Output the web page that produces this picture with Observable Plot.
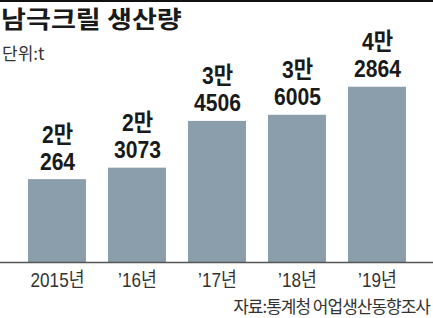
<!DOCTYPE html>
<html>
<head>
<meta charset="utf-8">
<script src="https://cdn.jsdelivr.net/npm/d3@7"></script>
<script src="https://cdn.jsdelivr.net/npm/@observablehq/plot@0.6"></script>
<style>
  html, body { margin: 0; padding: 0; background: #fff; }
  #wrap { position: relative; width: 433px; height: 318px; overflow: hidden; background: #fff; }
  #chart { position: absolute; left: 0; top: 0; }
  #topline { position: absolute; left: 0; top: 0; width: 433px; height: 2px; background: #111; }
  #title { position: absolute; left: 1px; top: 1px; font-family: "Noto Sans CJK KR", sans-serif; font-weight: 700; font-size: 24px; line-height: 34px; color: #1a1a1a; white-space: nowrap; transform: scaleX(1.13); transform-origin: 0 0; }
  #subtitle { position: absolute; left: 2px; top: 40px; font-family: "Noto Sans CJK KR", sans-serif; font-size: 17px; line-height: 26px; color: #333; white-space: nowrap; }
  #caption { position: absolute; right: 3px; top: 294px; font-family: "Noto Sans CJK KR", sans-serif; font-size: 17px; line-height: 24px; color: #333; letter-spacing: -1px; white-space: nowrap; }
</style>
</head>
<body>
<div id="wrap">
  <div id="chart"></div>
  <div id="topline"></div>
  <div id="title">남극크릴 생산량</div>
  <div id="subtitle">단위:t</div>
  <div id="caption">자료:통계청 어업생산동향조사</div>
</div>
<script>
const years = ["2015년", "’16년", "’17년", "’18년", "’19년"];
const values = [20264, 23073, 34506, 36005, 42864];
const labels = ["2만\n264", "2만\n3073", "3만\n4506", "3만\n6005", "4만\n2864"];

const data = years.map((year, i) => ({year, value: values[i], label: labels[i]}));

const chart = Plot.plot({
  width: 433,
  height: 296,
  marginLeft: 0,
  marginRight: 0,
  marginTop: 78,
  marginBottom: 34,
  style: {fontFamily: "'Liberation Sans', Arial, 'Noto Sans CJK KR', sans-serif", fontSize: "20px", color: "#333", background: "transparent", overflow: "visible"},
  x: {domain: years, padding: 0.28, insetLeft: 4.5, insetRight: 3.5, label: null},
  y: {domain: [0, 45000], axis: null},
  marks: [
    Plot.barY(data, {x: "year", y: "value", fill: "#8b9eac"}),
    Plot.ruleY([0], {stroke: "#555", strokeWidth: 1.5}),
    Plot.axisX({tickSize: 0, tickPadding: 10, fontSize: 20, fill: "#333"}),
    Plot.text(data, {x: "year", y: "value", text: "label", lineAnchor: "bottom", lineHeight: 1.125, dy: -10, fontSize: 24, fontWeight: "bold", fill: "#1a1a1a", className: "vlabel"})
  ]
});
// horizontally condense the text glyphs around their anchor (narrow typeface look)
function condense(selector, k) {
  chart.querySelectorAll(selector).forEach(t => {
    const tr = t.getAttribute("transform") || "";
    t.setAttribute("transform", tr + ` scale(${k},1)`);
  });
}
condense(".vlabel text", 0.88);
condense('g[aria-label="x-axis tick label"] text', 0.86);
document.getElementById("chart").appendChild(chart);
</script>
</body>
</html>
